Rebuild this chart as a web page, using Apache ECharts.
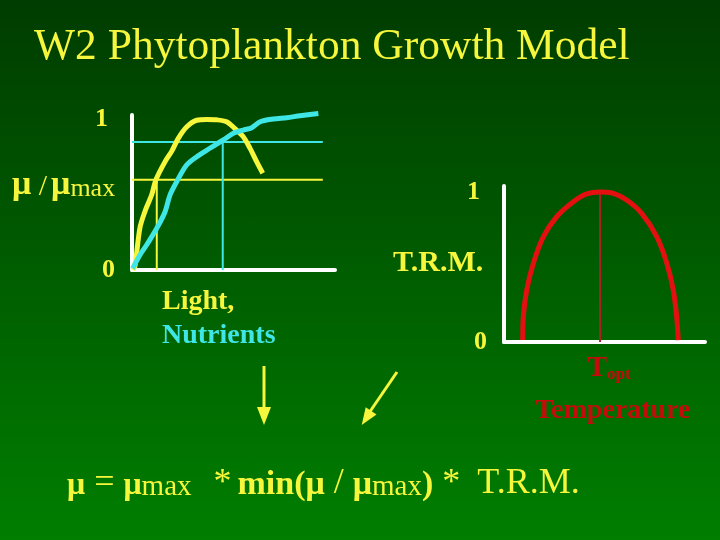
<!DOCTYPE html>
<html>
<head>
<meta charset="utf-8">
<script src="https://cdn.jsdelivr.net/npm/echarts@6/dist/echarts.min.js"></script>
<style>
html, body { margin: 0; padding: 0; }
#main { width: 720px; height: 540px; background: linear-gradient(#003c00, #007e00); }
</style>
</head>
<body>
<div id="main"></div>
<script>
// left panel: growth response (mu / mu max) vs light and nutrients, x in % of axis
var lightX = [0.5, 1.5, 3.9, 6.4, 9.7, 11.8, 16.3, 19.6, 22.8, 26.9, 31.9, 36.8, 41.7, 46.6, 50.7, 54.8, 58.1, 61.4, 64.4];
var lightY = [0.0, 0.03, 0.28, 0.39, 0.50, 0.60, 0.72, 0.79, 0.875, 0.95, 0.995, 1.0, 0.998, 0.985, 0.94, 0.886, 0.81, 0.72, 0.643];
var nutrientX = [0.3, 3.9, 7.2, 12.2, 16.3, 18.7, 22, 26.9, 31.9, 38.4, 45, 49.9, 54.8, 59, 63.1, 69.6, 76.2, 82.8, 91.8];
var nutrientY = [0.01, 0.10, 0.166, 0.277, 0.387, 0.498, 0.587, 0.698, 0.753, 0.809, 0.864, 0.908, 0.93, 0.946, 0.985, 1.003, 1.012, 1.025, 1.04];
var lightLimit = 0.6;      // yellow reference level
var lightCross = 12.2;
var nutrientLimit = 0.85;  // cyan reference level
var nutrientCross = 44.7;
var refEnd = 94;

// right panel: temperature rate multiplier
var tempX = [9.3, 9.6, 11.3, 14.6, 19.6, 26.2, 34.5, 41.1, 47.8, 54.4, 61.0, 68.5, 76.0, 81.0, 84.2, 85.9, 86.7];
var tempY = [0.013, 0.169, 0.347, 0.525, 0.702, 0.835, 0.935, 0.987, 1.0, 0.991, 0.947, 0.858, 0.702, 0.525, 0.347, 0.169, 0.013];
var tOpt = 47.8;

var yTicks = [0, 1];

var YELLOW = '#f6f63c';
var CYAN = '#3ee6e6';
var RED = '#e41010';
var DARKRED = '#c40c0c';
var SERIF = 'Liberation Serif';

function pairs(xs, ys) {
    return xs.map(function (x, i) { return [x, ys[i]]; });
}

// text token style for graphic rich text (zrender uses fill)
function tok(size, bold, color, lh) {
    return { fontFamily: SERIF, fontWeight: bold ? 'bold' : 'normal', fontSize: size, fill: color, lineHeight: lh, verticalAlign: 'bottom' };
}

var chart = echarts.init(document.getElementById('main'));

var tickLabel = {
    customValues: yTicks,
    margin: 17,
    formatter: function (v) { return v === 1 ? '{one|1}' : '{zero|0}'; },
    rich: {
        one: { fontFamily: SERIF, fontWeight: 'bold', fontSize: 26, color: YELLOW, padding: [0, 7, 0, 0] },
        zero: { fontFamily: SERIF, fontWeight: 'bold', fontSize: 26, color: YELLOW }
    }
};
var whiteLine = { show: true, lineStyle: { color: '#ffffff', width: 4 } };

function lineSeries(data, color, width, xi, smooth) {
    return {
        type: 'line', data: data, xAxisIndex: xi, yAxisIndex: xi,
        symbol: 'none', smooth: smooth ? 0.3 : false, clip: false,
        lineStyle: { color: color, width: width }
    };
}

var option = {
    animation: false,
    backgroundColor: 'transparent',
    title: {
        text: 'W2 Phytoplankton Growth Model',
        left: 29, top: 21,
        textStyle: { fontFamily: SERIF, fontWeight: 'normal', fontSize: 43.5, color: YELLOW }
    },
    grid: [
        { left: 132, right: 385, top: 115, bottom: 270, containLabel: false },
        { left: 504, right: 15, top: 186, bottom: 198, containLabel: false }
    ],
    xAxis: [
        { type: 'value', gridIndex: 0, min: 0, max: 100, axisLine: whiteLine, axisTick: { show: false }, axisLabel: { show: false }, splitLine: { show: false } },
        { type: 'value', gridIndex: 1, min: 0, max: 100, axisLine: whiteLine, axisTick: { show: false }, axisLabel: { show: false }, splitLine: { show: false } }
    ],
    yAxis: [
        { type: 'value', gridIndex: 0, min: 0, max: 1.03, axisLine: whiteLine, axisTick: { show: false }, axisLabel: tickLabel, splitLine: { show: false } },
        { type: 'value', gridIndex: 1, min: 0, max: 1.04, axisLine: whiteLine, axisTick: { show: false }, axisLabel: tickLabel, splitLine: { show: false } }
    ],
    series: [
        lineSeries([[0, lightLimit], [refEnd, lightLimit]], YELLOW, 2, 0),
        lineSeries([[lightCross, 0], [lightCross, lightLimit]], YELLOW, 2, 0),
        lineSeries([[0, nutrientLimit], [refEnd, nutrientLimit]], CYAN, 2, 0),
        lineSeries([[nutrientCross, 0], [nutrientCross, nutrientLimit]], CYAN, 2, 0),
        lineSeries(pairs(lightX, lightY), YELLOW, 5, 0, true),
        lineSeries(pairs(nutrientX, nutrientY), CYAN, 5, 0, true),
        lineSeries([[tOpt, 0], [tOpt, 1]], '#a62222', 2, 1),
        lineSeries(pairs(tempX, tempY), RED, 5, 1, true)
    ],
    graphic: [
        {   // left y label
            type: 'text', left: 12, top: 168,
            style: {
                text: '{mu|μ}{sl| /}{g| }{mu|μ}{sub|max}',
                rich: {
                    mu: tok(34, true, YELLOW, 40),
                    sl: tok(30, false, YELLOW, 40),
                    sub: tok(26, false, YELLOW, 10),
                    g: { fontSize: 10, width: 4, lineHeight: 10 }
                }
            }
        },
        {
            type: 'text', left: 393, top: 248,
            style: { text: 'T.R.M.', fontFamily: SERIF, fontWeight: 'bold', fontSize: 30, fill: YELLOW }
        },
        {
            type: 'text', left: 162, top: 288,
            style: { text: 'Light,', fontFamily: SERIF, fontWeight: 'bold', fontSize: 28, fill: YELLOW }
        },
        {
            type: 'text', left: 162, top: 322,
            style: { text: 'Nutrients', fontFamily: SERIF, fontWeight: 'bold', fontSize: 28, fill: CYAN }
        },
        {
            type: 'text', left: 587, top: 353,
            style: {
                text: '{t|T}{s|opt}',
                rich: { t: tok(30, true, DARKRED, 34), s: tok(17, true, DARKRED, 6) }
            }
        },
        {
            type: 'text', left: 535, top: 397,
            style: { text: 'Temperature', fontFamily: SERIF, fontWeight: 'bold', fontSize: 28, fill: DARKRED }
        },
        // arrows
        { type: 'line', shape: { x1: 264, y1: 366, x2: 264, y2: 410 }, style: { stroke: YELLOW, lineWidth: 3 } },
        { type: 'polygon', shape: { points: [[257, 407], [271, 407], [264, 425]] }, style: { fill: YELLOW } },
        { type: 'line', shape: { x1: 397, y1: 372, x2: 369, y2: 413 }, style: { stroke: YELLOW, lineWidth: 3 } },
        { type: 'polygon', shape: { points: [[376.5, 414.5], [365.7, 407.3], [361.7, 425]] }, style: { fill: YELLOW } },
        {   // equation
            type: 'text', left: 67, top: 466,
            style: {
                text: '{mu|μ}{op| = }{mu|μ}{sub|max}{g1| }{op|*}{g2| }{b|min(μ}{op| / }{b|μ}{sub|max}{b|)}{op| *}{g3| }{op|T.R.M.}',
                rich: {
                    mu: tok(32, true, YELLOW, 40),
                    b: tok(34, true, YELLOW, 40),
                    op: tok(36, false, YELLOW, 40),
                    sub: tok(29, false, YELLOW, 10),
                    g1: { fontSize: 10, width: 22, lineHeight: 10 },
                    g2: { fontSize: 10, width: 6, lineHeight: 10 },
                    g3: { fontSize: 10, width: 17, lineHeight: 10 }
                }
            }
        }
    ]
};
chart.setOption(option);
</script>
</body>
</html>
